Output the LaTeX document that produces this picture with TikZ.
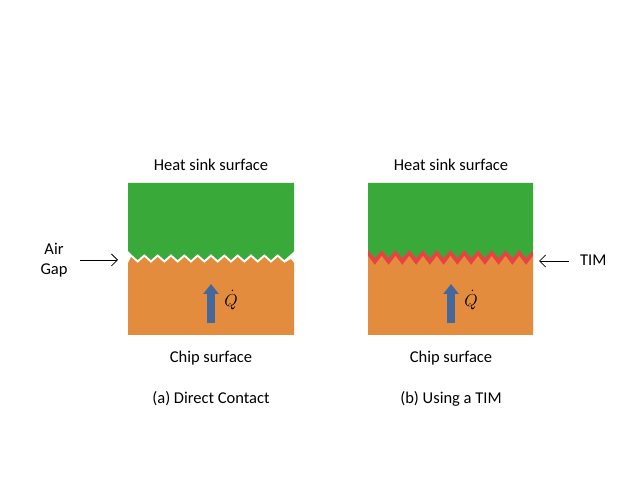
\documentclass[tikz,border=0pt]{standalone}
\usepackage{fontspec}
\setmainfont{Carlito}
\usetikzlibrary{arrows.meta}
\definecolor{sinkgreen}{RGB}{57,170,57}
\definecolor{chiporange}{RGB}{227,140,62}
\definecolor{timred}{RGB}{232,66,66}
\definecolor{flowblue}{RGB}{68,104,156}
\begin{document}
\begin{tikzpicture}[x=1pt,y=-1pt,
  lbl/.style={font=\fontsize{16.5}{19}\selectfont, inner sep=0pt, anchor=base},
  qlbl/.style={font=\fontsize{17}{19}\selectfont, inner sep=0pt},
  pointer/.style={line width=0.8pt, -{Straight Barb[length=6pt,width=12pt,line width=0.8pt]}},
  flow/.style={flowblue, line width=8pt, -{Triangle[length=10pt,width=15pt]}, shorten >=0pt}
]
\useasboundingbox (0,0) rectangle (635,486);
\pgfmathsetmacro{\pa}{160/12}
\pgfmathsetmacro{\pb}{165/12}

% ---------- (a) direct contact ----------
\fill[sinkgreen] (128,183) -- (294,183) -- (294,251) -- (291,254)
  \foreach \i in {11,...,0} { -- ({131+(\i+0.5)*\pa},260) -- ({131+\i*\pa},254) }
  -- (128,251) -- cycle;
\fill[chiporange] (128,335) -- (294,335) -- (294,263) -- (291,259)
  \foreach \i in {11,...,0} { -- ({131+(\i+0.5)*\pa},263) -- ({131+\i*\pa},257) }
  -- (128,263) -- cycle;
\draw[flow] (211,323) -- (211,284);
\node[qlbl] (qa) at (231,300) {$\dot{Q}$};

\node[lbl] (hsa) at (211,171) {Heat sink surface};
\node[lbl] (cha) at (211,363) {Chip surface};
\node[lbl] (capa) at (211,404) {(a) Direct Contact};
\node[lbl] (air) at (54,255) {Air};
\node[lbl] (gap) at (54,275) {Gap};
\coordinate (airtail) at (80,260);
\coordinate (airtip) at (118,260);
\draw[pointer] (airtail) -- (airtip);

% ---------- (b) using a TIM ----------
\fill[timred] (368,249) rectangle (533,266);
\fill[sinkgreen] (368,183) -- (533,183) -- (533,250)
  \foreach \i in {11,...,0} { -- ({368+(\i+0.5)*\pb},258) -- ({368+\i*\pb},250) }
  -- cycle;
\fill[chiporange] (368,335) -- (533,335) -- (533,256)
  \foreach \i in {11,...,0} { -- ({368+(\i+0.5)*\pb},265) -- ({368+\i*\pb},256) }
  -- cycle;
\draw[flow] (451,323) -- (451,284);
\node[qlbl] (qb) at (471,300) {$\dot{Q}$};

\node[lbl] (hsb) at (451,171) {Heat sink surface};
\node[lbl] (chb) at (451,363) {Chip surface};
\node[lbl] (capb) at (451,404) {(b) Using a TIM};
\node[lbl, anchor=base west] (tim) at (580,266) {TIM};
\coordinate (timtail) at (569,261);
\coordinate (timtip) at (539,261);
\draw[pointer] (timtail) -- (timtip);
\end{tikzpicture}
\end{document}
